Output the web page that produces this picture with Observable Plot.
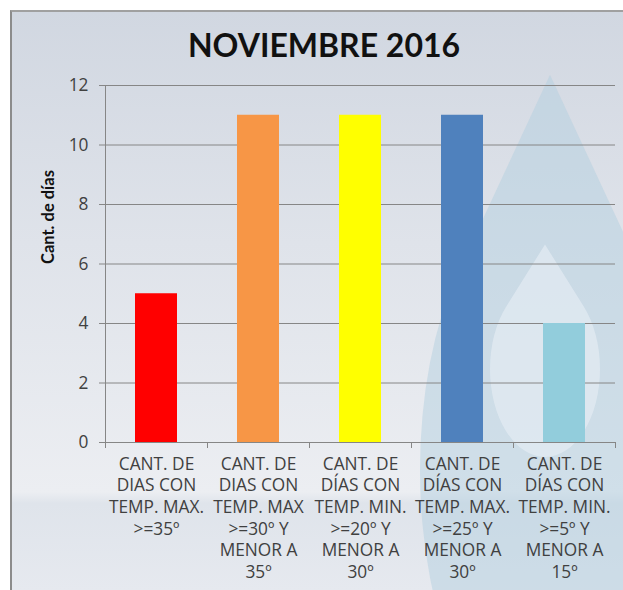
<!DOCTYPE html>
<html><head><meta charset="utf-8">
<script src="https://cdn.jsdelivr.net/npm/d3@7"></script>
<script src="https://cdn.jsdelivr.net/npm/@observablehq/plot@0.6"></script>
<style>
body{margin:0;background:#fff;width:623px;height:590px;overflow:hidden;font-family:"Open Sans",sans-serif;position:relative}
#panel{position:absolute;left:10px;top:10px;width:613px;height:580px;border-left:2px solid #8c8c8c;border-top:2px solid #a0a0a0;box-sizing:border-box;background:linear-gradient(180deg,#d1d7e1 0%,#dfe3ea 40%,#eceef2 83%,#dfe4eb 85%,#e6e9ef 100%);overflow:hidden}
.drop{position:absolute;border-radius:0 50% 50% 50%}
#d1{left:408px;top:328px;width:260px;height:260px;background:rgba(180,207,224,0.5);transform:scaleY(2.15) rotate(45deg)}
#d2{left:478px;top:302px;width:110px;height:110px;background:rgba(232,239,245,0.6);transform:scaleY(1.6) rotate(45deg)}
#title{position:absolute;left:0;top:28px;width:648px;text-align:center;font-weight:bold;font-size:32px;line-height:34px;color:#111;font-family:Lato,sans-serif}
#chart{position:absolute;left:10px;top:70px}
</style></head>
<body>
<div id="panel"><div class="drop" id="d1"></div><div class="drop" id="d2"></div></div>
<div id="title">NOVIEMBRE 2016</div>
<div id="chart"></div>
<script>
const categories = ["A", "B", "C", "D", "E"];
const labels = [
  "CANT. DE\nDIAS CON\nTEMP. MAX.\n>=35º",
  "CANT. DE\nDIAS CON\nTEMP. MAX\n>=30º Y\nMENOR A\n35º",
  "CANT. DE\nDÍAS CON\nTEMP. MIN.\n>=20º Y\nMENOR A\n30º",
  "CANT. DE\nDÍAS CON\nTEMP. MAX.\n>=25º Y\nMENOR A\n30º",
  "CANT. DE\nDÍAS CON\nTEMP. MIN.\n>=5º Y\nMENOR A\n15º"
];
const values = [5, 11, 11, 11, 4];
const colors = ["#ff0000", "#f79646", "#ffff00", "#4f81bd", "#92cddc"];
const yTicks = [0, 2, 4, 6, 8, 10, 12];

const data = categories.map((c, i) => ({cat: c, label: labels[i], value: values[i], color: colors[i]}));

const W = 613, ML = 95, MR = 8;
const bw = (W - ML - MR) / categories.length;
const grey = "#868686";

const chart = Plot.plot({
  width: W,
  height: 520,
  marginLeft: ML,
  marginRight: MR,
  marginTop: 15,
  marginBottom: 148,
  style: {background: "transparent", fontFamily: "'Open Sans', sans-serif", fontSize: "17.3px", color: "#404040", overflow: "visible"},
  x: {domain: categories, padding: 0},
  y: {domain: [0, 12]},
  marks: [
    Plot.gridY(yTicks, {stroke: grey, strokeOpacity: 1}),
    Plot.barY(data, {x: "cat", y: "value", fill: "color", insetLeft: 30, insetRight: 30}),
    Plot.ruleY([0], {stroke: grey}),
    Plot.ruleX(categories, {x: d => d, y1: 0, y2: 0, insetBottom: -6, dx: -bw / 2, stroke: grey}),
    Plot.ruleX([categories[categories.length - 1]], {x: d => d, y1: 0, y2: 0, insetBottom: -6, dx: bw / 2, stroke: grey}),
    Plot.frame({anchor: "left", stroke: grey}),
    Plot.axisY({ticks: yTicks, tickSize: 6, tickPadding: 11, stroke: grey, fill: "#404040", fontSize: 17.3, label: null}),
    Plot.axisX({tickSize: 0, tickPadding: 12, tickFormat: c => labels[categories.indexOf(c)], fontSize: 17.3, lineHeight: 1.25, fill: "#404040", label: null}),
    Plot.text(["Cant. de días"], {frameAnchor: "left", rotate: -90, dx: -57, fontWeight: "bold", fontSize: 16.5, fontFamily: "Lato, sans-serif", fill: "#111"})
  ]
});
document.getElementById("chart").appendChild(chart);
</script>
</body></html>
